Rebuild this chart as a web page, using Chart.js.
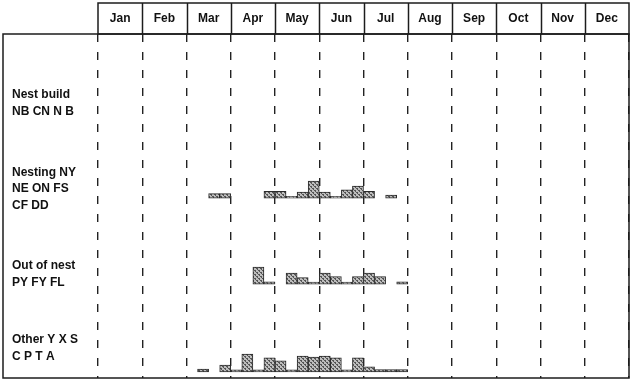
<!DOCTYPE html>
<html>
<head>
<meta charset="utf-8">
<script src="https://cdn.jsdelivr.net/npm/chart.js@4"></script>
<style>
  html, body { margin: 0; background: #fff; }
  #wrap { width: 634px; height: 381px; }
</style>
</head>
<body>
<div id="wrap"><canvas id="chart"></canvas></div>
<script>
// --- data ---
const months = ['Jan', 'Feb', 'Mar', 'Apr', 'May', 'Jun', 'Jul', 'Aug', 'Sep', 'Oct', 'Nov', 'Dec'];
const rowLabels = [
  ['Nest build', 'NB CN N B'],
  ['Nesting NY', 'NE ON FS', 'CF DD'],
  ['Out of nest', 'PY FY FL'],
  ['Other Y X S', 'C P T A']
];
// weekly records, 4 weeks per month, from Mar week 1 to Jul week 4 (null = nothing)
const firstWeek = 8;
const nestBuild = [];
const nesting = [null, null, 1.5, 1.5,  null, null, null, 2.2,  2.2, 0.6, 2, 5.7,  2, 0.6, 2.7, 4,  2.2, null, 1, null];
const outOfNest = [null, null, null, null,  null, null, 5.7, 0.8,  null, 3.7, 2.2, 0.7,  3.7, 2.5, 0.7, 2.5,  3.7, 2.5, null, 0.8];
const other = [null, 1, null, 2.3,  0.7, 6, 0.7, 4.7,  3.7, 0.7, 5.3, 5,  5.3, 4.7, 0.7, 4.7,  1.7, 0.8, 0.8, 0.8];

// --- layout (y units, 1 unit ~ 3px) ---
const Y_MAX = 114.7;
const rowBase = [88.7, 60, 31.3, 2];
const labelAt = [91.7, 63, 34.7, 10];

const weeks = months.flatMap(m => [1, 2, 3, 4].map(w => m + ' ' + w));

function floating(values, base) {
  const out = new Array(weeks.length).fill(null);
  values.forEach((v, i) => {
    if (v != null) out[firstWeek + i] = [base, base + v];
  });
  return out;
}

// stippled grey fill like the original
function stipple() {
  const c = document.createElement('canvas');
  c.width = 4; c.height = 4;
  const g = c.getContext('2d');
  g.fillStyle = '#bdbdbd';
  g.fillRect(0, 0, 4, 4);
  g.fillStyle = '#555';
  g.fillRect(0, 0, 2, 1);
  g.fillRect(2, 2, 2, 1);
  g.fillRect(1, 1, 1, 1);
  g.fillRect(3, 3, 1, 1);
  return g.createPattern(c, 'repeat');
}
const fill = stipple();

const font = { family: "'Liberation Sans', Arial, sans-serif", size: 12, weight: 'bold', lineHeight: 1.38 };

function rowDataset(values, row) {
  return {
    data: floating(values, rowBase[row]),
    backgroundColor: fill,
    borderColor: '#2a2a2a',
    borderWidth: 1,
    borderSkipped: false,
    grouped: false,
    barPercentage: 1,
    categoryPercentage: 1,
    xAxisID: 'x'
  };
}

// table lines: header row with solid dividers, box round the body
const tablePlugin = {
  id: 'table',
  afterDraw(chart) {
    const { ctx, chartArea: a, scales } = chart;
    const xm = scales.xm, y = scales.y;
    ctx.save();
    ctx.strokeStyle = '#1c1c1c';
    ctx.lineWidth = 1.5;
    ctx.strokeRect(a.left, xm.top, a.right - a.left, a.top - xm.top);
    for (let i = 1; i < months.length; i++) {
      const x = Math.round((xm.getPixelForValue(i - 1) + xm.getPixelForValue(i)) / 2) + 0.5;
      ctx.beginPath();
      ctx.moveTo(x, xm.top);
      ctx.lineTo(x, a.top);
      ctx.stroke();
    }
    const left = y.left - 9;
    ctx.strokeRect(left, a.top, a.right - left, a.bottom - a.top);
    ctx.restore();
  }
};

new Chart(document.getElementById('chart'), {
  type: 'bar',
  data: {
    labels: weeks,
    datasets: [
      rowDataset(nestBuild, 0),
      rowDataset(nesting, 1),
      rowDataset(outOfNest, 2),
      rowDataset(other, 3)
    ]
  },
  options: {
    responsive: true,
    maintainAspectRatio: false,
    animation: false,
    layout: { padding: { left: 12, right: 5, top: 3, bottom: 3 } },
    plugins: { legend: { display: false }, tooltip: { enabled: false } },
    scales: {
      x: { type: 'category', display: false, offset: true },
      xm: {
        type: 'category',
        labels: months,
        position: 'top',
        offset: true,
        afterFit: s => { s.height = 31; s.paddingLeft = 0; s.paddingRight = 0; },
        grid: { offset: true, drawTicks: false, color: '#222', lineWidth: 1.4 },
        border: { display: false, dash: [8, 10] },
        ticks: { font: { ...font, lineHeight: 1.2 }, color: '#111', padding: 8, maxRotation: 0, autoSkip: false }
      },
      y: {
        min: 0,
        max: Y_MAX,
        afterFit: s => { s.width = 86; s.paddingTop = 0; s.paddingBottom = 0; },
        afterBuildTicks: s => { s.ticks = labelAt.map(v => ({ value: v })); },
        grid: { display: false },
        border: { display: false },
        ticks: {
          crossAlign: 'far',
          font: font,
          color: '#111',
          callback: (v, i) => rowLabels[i]
        }
      }
    }
  },
  plugins: [tablePlugin]
});
</script>
</body>
</html>
